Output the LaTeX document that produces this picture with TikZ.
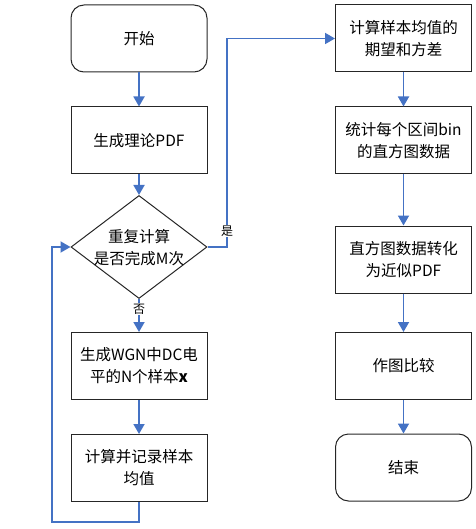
\documentclass[tikz,border=0pt]{standalone}
\usepackage{fontspec}
\newfontfamily\cjk{Noto Sans CJK SC}
\usetikzlibrary{arrows.meta,shapes.geometric}
\definecolor{flowblue}{HTML}{4472C4}
\tikzset{
  box/.style={draw=black!85, line width=1pt, rectangle, minimum width=136pt, minimum height=67pt, inner sep=0pt, align=center, font=\cjk\fontsize{15.5}{22}\selectfont},
  rbox/.style={box, rounded corners=13pt},
  dia/.style={draw=black!85, line width=1pt, diamond, minimum width=136pt, minimum height=103pt, inner sep=0pt},
  txt/.style={align=center, inner sep=0pt, font=\cjk\fontsize{15.5}{22}\selectfont},
  lab/.style={fill=white, inner sep=1pt, font=\cjk\fontsize{12}{14}\selectfont},
  arr/.style={draw=flowblue, line width=1.8pt, -{Triangle[width=11pt,length=10pt]}},
}
\begin{document}
\begin{tikzpicture}[x=1pt,y=-1pt]
\useasboundingbox (0,0) rectangle (475,529);
% left column
\node[rbox] (start) at (139,38.5) {开始};
\node[box] (theory) at (139,140.5) {生成理论PDF};
\node[dia] (dec) at (139,247) {};
\node[txt] (dectext) at (139,247.5) {重复计算\\是否完成M次};
\node[box] (gen) at (139,366) {生成WGN中DC电\\平的N个样本\textbf{x}};
\node[box] (mean) at (139,468) {计算并记录样本\\均值};
% right column
\node[box] (stat) at (403.5,38.5) {计算样本均值的\\期望和方差};
\node[box] (hist) at (403.5,140.5) {统计每个区间bin\\的直方图数据};
\node[box] (pdf) at (403.5,259.5) {直方图数据转化\\为近似PDF};
\node[box] (plot) at (403.5,366) {作图比较};
\node[rbox] (end) at (403.5,467.5) {结束};
% helper coordinates
\coordinate (loopc) at (52,522);
\coordinate (yesc) at (227,39);
% connectors
\draw[arr] (start) -- (theory);
\draw[arr] (theory) -- (dec);
\draw[arr] (dec) -- (gen) node[lab, pos=0.3] (no) {否};
\draw[arr] (gen) -- (mean);
\draw[arr] (mean.south) |- (loopc) |- (dec.west);
\draw[arr] (dec.east) -| (yesc) |- (stat.west);
\node[lab] (yes) at (227,231) {是};
\draw[arr] (stat) -- (hist);
\draw[arr] (hist) -- (pdf);
\draw[arr] (pdf) -- (plot);
\draw[arr] (plot) -- (end);
\end{tikzpicture}
\end{document}
